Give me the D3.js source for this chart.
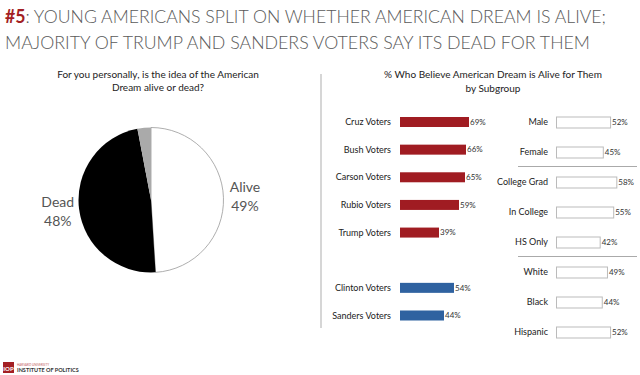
<!DOCTYPE html>
<html>
<head>
<meta charset="utf-8">
<script src="https://cdn.jsdelivr.net/npm/d3@7"></script>
<style>
  body { margin: 0; background: #fff; }
  svg { display: block; font-family: Lato, "Open Sans", sans-serif; }
</style>
</head>
<body>
<svg></svg>
<script>
// pie data
const pieLabels = ['Alive', 'Dead', 'Other'];
const pieValues = [49, 48, 3];

// partisan bars (blank slot separates the parties)
const partyNames = ['Cruz Voters', 'Bush Voters', 'Carson Voters', 'Rubio Voters', 'Trump Voters', '', 'Clinton Voters', 'Sanders Voters'];
const partyValues = [69, 66, 65, 59, 39, null, 54, 44];
const partySide = ['R', 'R', 'R', 'R', 'R', null, 'D', 'D'];

// subgroup bars
const groupNames = ['Male', 'Female', 'College Grad', 'In College', 'HS Only', 'White', 'Black', 'Hispanic'];
const groupValues = [52, 45, 58, 55, 42, 49, 44, 52];
const groupBreaks = ['Female', 'HS Only'];

const width = 640, height = 375;
const red = '#a01c22', blue = '#2f62a0';

const svg = d3.select('svg')
    .attr('width', width)
    .attr('height', height);

// title
const title = svg.append('g')
    .attr('fill', '#5a5a5a')
    .attr('font-weight', 300)
    .style('font-size', '18px');
const t1 = title.append('text')
    .attr('x', 5).attr('y', 23)
    .attr('textLength', 601).attr('lengthAdjust', 'spacingAndGlyphs');
t1.append('tspan').attr('fill', '#a31f24').attr('font-weight', 'bold').text('#5');
t1.append('tspan').text(': YOUNG AMERICANS SPLIT ON WHETHER AMERICAN DREAM IS ALIVE;');
title.append('text')
    .attr('x', 5).attr('y', 49)
    .attr('textLength', 585).attr('lengthAdjust', 'spacingAndGlyphs')
    .text('MAJORITY OF TRUMP AND SANDERS VOTERS SAY ITS DEAD FOR THEM');

// divider
svg.append('line')
    .attr('x1', 321).attr('x2', 321)
    .attr('y1', 74).attr('y2', 328)
    .attr('stroke', '#c8c8c8').attr('stroke-width', 1.5);

// left subtitle
const sub1 = svg.append('text')
    .attr('text-anchor', 'middle')
    .attr('fill', '#222')
    .style('font-size', '10px');
sub1.append('tspan').attr('x', 158).attr('y', 78).text('For you personally, is the idea of the American');
sub1.append('tspan').attr('x', 158).attr('y', 91).text('Dream alive or dead?');

// pie
const pieColors = d3.scaleOrdinal().domain(pieLabels).range(['#fff', '#000', '#aaa']);
const pie = d3.pie().sort(null).value(d => d.value);
const arc = d3.arc().innerRadius(0).outerRadius(72.5);
const pieData = pieLabels.map((l, i) => ({ label: l, value: pieValues[i] }));

const gPie = svg.append('g')
    .attr('transform', 'translate(151, 200)');

gPie.selectAll('path')
    .data(pie(pieData))
    .join('path')
    .attr('d', arc)
    .attr('fill', d => pieColors(d.data.label))
    .attr('stroke', d => d.data.label === 'Alive' ? '#999' : 'none')
    .attr('stroke-width', 0.8);

const labelArc = d3.arc().innerRadius(94).outerRadius(94);
const pieText = gPie.selectAll('text.pl')
    .data(pie(pieData).filter(d => d.data.label !== 'Other'))
    .join('text')
    .attr('class', 'pl')
    .attr('text-anchor', 'middle')
    .attr('fill', '#555')
    .style('font-size', '14px')
    .attr('transform', d => {
        const c = labelArc.centroid(d);
        return `translate(${c[0]}, ${c[1] - 5})`;
    });
pieText.append('tspan').attr('x', 0).attr('y', 0).text(d => d.data.label);
pieText.append('tspan').attr('x', 0).attr('y', 19).text(d => d.data.value + '%');

// right subtitle
const sub2 = svg.append('text')
    .attr('text-anchor', 'middle')
    .attr('fill', '#222')
    .style('font-size', '10px');
sub2.append('tspan').attr('x', 493).attr('y', 78).text('% Who Believe American Dream is Alive for Them');
sub2.append('tspan').attr('x', 493).attr('y', 92).text('by Subgroup');

// partisan bars
const x1 = d3.scaleLinear().domain([0, 100]).range([400, 500]);
const y1 = d3.scalePoint().domain(d3.range(partyNames.length)).range([122, 315.5]);
const barH = 10;

const gParty = svg.append('g');
const partyRows = gParty.selectAll('g')
    .data(partyNames.map((n, i) => ({ name: n, value: partyValues[i], side: partySide[i], i })).filter(d => d.value != null))
    .join('g')
    .attr('transform', d => `translate(0, ${y1(d.i)})`);

partyRows.append('rect')
    .attr('x', x1(0))
    .attr('y', -barH / 2)
    .attr('width', d => x1(d.value) - x1(0))
    .attr('height', barH)
    .attr('fill', d => d.side === 'R' ? red : blue);

partyRows.append('text')
    .attr('x', 391).attr('dy', '0.35em')
    .attr('text-anchor', 'end')
    .attr('fill', '#222')
    .style('font-size', '9px')
    .text(d => d.name);

partyRows.append('text')
    .attr('x', d => x1(d.value) + 1).attr('dy', '0.35em')
    .attr('fill', '#333')
    .style('font-size', '8px')
    .text(d => d.value + '%');

// subgroup bars
const x2 = d3.scaleLinear().domain([0, 100]).range([556, 660]);
const y2 = d3.scalePoint().domain(groupNames).range([122, 332]);
const boxH = 11;

const gGroup = svg.append('g');
const groupRows = gGroup.selectAll('g')
    .data(groupNames.map((n, i) => ({ name: n, value: groupValues[i] })))
    .join('g')
    .attr('transform', d => `translate(0, ${y2(d.name)})`);

groupRows.append('rect')
    .attr('x', x2(0) + 0.5)
    .attr('y', -boxH / 2 + 0.5)
    .attr('width', d => x2(d.value) - x2(0))
    .attr('height', boxH)
    .attr('fill', '#fff')
    .attr('stroke', '#bbb');

groupRows.append('text')
    .attr('x', 548).attr('dy', '0.35em')
    .attr('text-anchor', 'end')
    .attr('fill', '#222')
    .style('font-size', '9px')
    .text(d => d.name);

groupRows.append('text')
    .attr('x', d => x2(d.value) + 2).attr('dy', '0.35em')
    .attr('fill', '#333')
    .style('font-size', '8px')
    .text(d => d.value + '%');

// separators between subgroup sets
gGroup.selectAll('line')
    .data(groupBreaks)
    .join('line')
    .attr('x1', 518).attr('x2', 637)
    .attr('y1', d => y2(d) + y2.step() / 2 - 0.5)
    .attr('y2', d => y2(d) + y2.step() / 2 - 0.5)
    .attr('stroke', '#aaa')
    .attr('stroke-width', 1);

// logo
const logo = svg.append('g').attr('transform', 'translate(3, 362)');
logo.append('rect').attr('width', 11).attr('height', 11).attr('fill', '#a31f24');
logo.append('text')
    .attr('x', 5.5).attr('y', 8.5)
    .attr('text-anchor', 'middle')
    .attr('fill', '#fff')
    .style('font-size', '6px').attr('font-weight', 'bold')
    .text('IOP');
logo.append('text')
    .attr('x', 14).attr('y', 4)
    .attr('fill', '#c05a5e')
    .style('font-size', '3px')
    .text('HARVARD UNIVERSITY');
logo.append('text')
    .attr('x', 14).attr('y', 10)
    .attr('fill', '#333')
    .style('font-size', '5.5px').attr('font-weight', 'bold')
    .text('INSTITUTE OF POLITICS');
</script>
</body>
</html>
